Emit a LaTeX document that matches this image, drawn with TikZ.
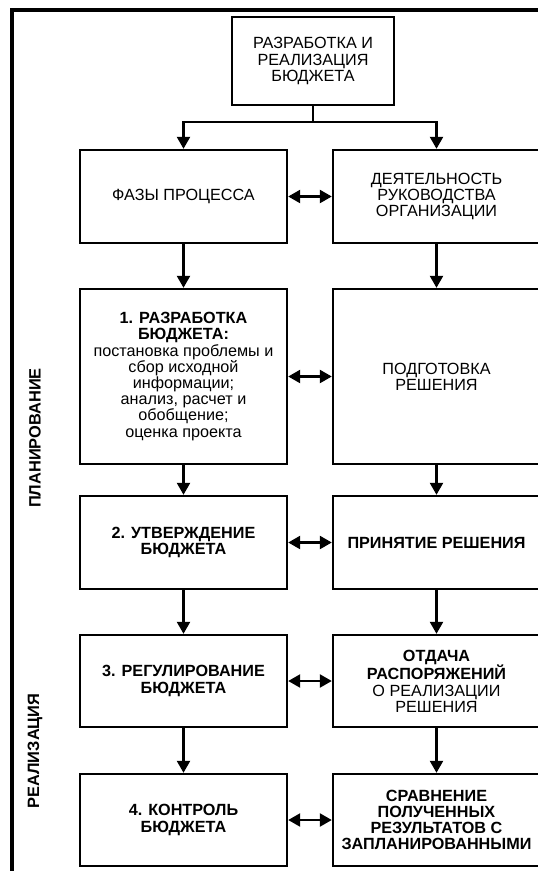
\documentclass[tikz,border=0pt]{standalone}
\usepackage{fontspec}
\setmainfont{Liberation Sans}
\usetikzlibrary{arrows.meta}

\begin{document}
\begin{tikzpicture}[x=1pt, y=-1pt, line join=miter,
    box/.style={draw, line width=2.4pt, minimum width=207pt, minimum height=93pt,
      align=center, inner sep=1pt, font=\fontsize{16.2}{16.2}\selectfont},
    arr/.style={-{Triangle[length=12pt, width=13pt]}, line width=2.4pt},
    biarr/.style={{Triangle[length=12pt, width=13pt]}-{Triangle[length=12pt, width=13pt]}, line width=2.4pt},
    side/.style={rotate=90, font=\fontsize{16.4}{16.4}\selectfont\bfseries}]
  \useasboundingbox (0,0) rectangle (538,871);
  \clip (0,0) rectangle (538,871);

  \draw[line width=3.5pt] (12,900) -- (12,10) -- (560,10);

  \node[box, minimum width=162pt, minimum height=88pt] (budget) at (313,61)
    {РАЗРАБОТКА И\\РЕАЛИЗАЦИЯ\\БЮДЖЕТА};

  \node[box] (phases) at (183.5,196.5) {ФАЗЫ ПРОЦЕССА};
  \node[box] (mgmt)   at (436.5,196.5) {ДЕЯТЕЛЬНОСТЬ\\РУКОВОДСТВА\\ОРГАНИЗАЦИИ};

  \node[box, minimum height=175pt] (develop) at (183.5,376.5)
    {\textbf{1. РАЗРАБОТКА}\\\textbf{БЮДЖЕТА:}\\постановка проблемы и\\сбор исходной\\информации;\\анализ, расчет и\\обобщение;\\оценка проекта};
  \node[box, minimum height=175pt] (prep) at (436.5,376.5) {ПОДГОТОВКА\\РЕШЕНИЯ};

  \node[box] (approve) at (183.5,542.5) {\textbf{2. УТВЕРЖДЕНИЕ}\\\textbf{БЮДЖЕТА}};
  \node[box] (decide)  at (436.5,542.5) {\textbf{ПРИНЯТИЕ РЕШЕНИЯ}};

  \node[box, minimum height=92pt] (regulate) at (183.5,681) {\textbf{3. РЕГУЛИРОВАНИЕ}\\\textbf{БЮДЖЕТА}};
  \node[box, minimum height=92pt] (orders)   at (436.5,681)
    {\textbf{ОТДАЧА}\\\textbf{РАСПОРЯЖЕНИЙ}\\О РЕАЛИЗАЦИИ\\РЕШЕНИЯ};

  \node[box, minimum height=92pt] (control) at (183.5,820) {\textbf{4. КОНТРОЛЬ}\\\textbf{БЮДЖЕТА}};
  \node[box, minimum height=92pt] (compare) at (436.5,820)
    {\textbf{СРАВНЕНИЕ}\\\textbf{ПОЛУЧЕННЫХ}\\\textbf{РЕЗУЛЬТАТОВ С}\\\textbf{ЗАПЛАНИРОВАННЫМИ}};

  \node[side] (plan) at (35,438) {ПЛАНИРОВАНИЕ};
  \node[side] (real) at (35,751) {РЕАЛИЗАЦИЯ};

  \coordinate (J) at (313,122);
  \draw[line width=2.4pt] (budget.south) -- (J);
  \draw[arr] (J) -| (phases.north);
  \draw[arr] (J) -| (mgmt.north);

  \draw[arr] (phases) -- (develop);
  \draw[arr] (develop) -- (approve);
  \draw[arr] (approve) -- (regulate);
  \draw[arr] (regulate) -- (control);

  \draw[arr] (mgmt) -- (prep);
  \draw[arr] (prep) -- (decide);
  \draw[arr] (decide) -- (orders);
  \draw[arr] (orders) -- (compare);

  \draw[biarr] (phases) -- (mgmt);
  \draw[biarr] (develop) -- (prep);
  \draw[biarr] (approve) -- (decide);
  \draw[biarr] (regulate) -- (orders);
  \draw[biarr] (control) -- (compare);
\end{tikzpicture}
\end{document}
